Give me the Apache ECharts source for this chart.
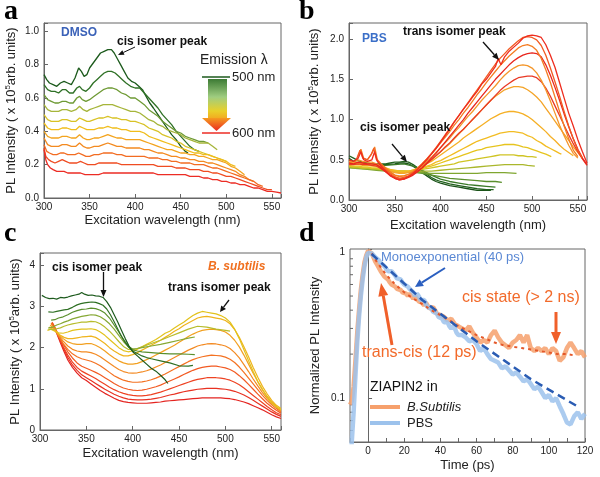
<!DOCTYPE html>
<html><head><meta charset="utf-8">
<script src="https://cdn.jsdelivr.net/npm/echarts@6/dist/echarts.min.js"></script>
<style>html,body{margin:0;padding:0;background:#fff}#c{width:600px;height:477px}</style>
</head><body><div id="c"></div>
<script>
// ---------------- Panel a (DMSO) : emission 500..600 nm ----------------
const aEmission = [500,510,520,530,540,550,560,570,580,590,600];
const aColors = ['#1c5a1c','#2f7126','#6e9a34','#a6b53a','#d8c226','#f0bd1c','#f3a41e','#f38a20','#f26c22','#ef4c22','#ec2c24'];
const a500 = [[300,0.74],[303,0.71],[306,0.69],[310,0.68],[314,0.67],[318,0.69],[322,0.70],[326,0.69],[330,0.68],[334,0.72],[338,0.78],[341,0.76],[344,0.73],[347,0.74],[350,0.78],[354,0.81],[358,0.84],[362,0.87],[366,0.88],[370,0.89],[374,0.89],[377,0.87],[380,0.84],[384,0.80],[388,0.76],[392,0.72],[396,0.70],[400,0.69],[404,0.67],[408,0.65],[412,0.61],[416,0.57],[420,0.54],[425,0.50],[430,0.46],[435,0.42],[440,0.38],[445,0.35],[450,0.31],[455,0.28],[458,0.27]];
const a510 = [[300,0.68],[304,0.65],[308,0.64],[312,0.64],[316,0.63],[320,0.65],[324,0.65],[328,0.63],[332,0.63],[336,0.66],[339,0.67],[342,0.65],[346,0.64],[350,0.66],[354,0.69],[358,0.71],[362,0.73],[366,0.75],[370,0.76],[374,0.76],[378,0.75],[382,0.73],[386,0.71],[390,0.69],[395,0.67],[400,0.66],[405,0.66],[410,0.63],[415,0.60],[420,0.57],[425,0.54],[430,0.50],[435,0.47],[440,0.44],[445,0.40],[450,0.37],[455,0.34],[460,0.31],[465,0.29],[470,0.28]];
const a520 = [[300,0.62],[304,0.59],[308,0.58],[312,0.57],[316,0.57],[320,0.58],[324,0.58],[328,0.57],[332,0.57],[336,0.60],[339,0.61],[342,0.59],[346,0.58],[350,0.59],[355,0.61],[360,0.63],[365,0.65],[370,0.66],[375,0.66],[380,0.65],[385,0.63],[390,0.62],[395,0.60],[400,0.60],[405,0.58],[410,0.56],[415,0.53],[420,0.51],[425,0.49],[430,0.46],[435,0.44],[440,0.42],[445,0.40],[450,0.39],[455,0.37],[460,0.36],[465,0.35],[470,0.34],[475,0.34],[480,0.33]];
const a530 = [[300,0.56],[304,0.53],[308,0.52],[312,0.52],[316,0.52],[320,0.53],[325,0.53],[330,0.52],[335,0.53],[339,0.55],[343,0.53],[347,0.52],[350,0.53],[355,0.54],[360,0.55],[365,0.56],[370,0.56],[375,0.56],[380,0.55],[385,0.54],[390,0.53],[395,0.52],[400,0.52],[405,0.51],[410,0.49],[415,0.47],[420,0.46],[425,0.44],[430,0.43],[435,0.41],[440,0.40],[445,0.39],[450,0.38],[455,0.36],[460,0.35],[465,0.34],[470,0.33],[475,0.33],[480,0.33],[485,0.31],[490,0.29]];
const a540 = [[300,0.50],[304,0.47],[308,0.46],[312,0.46],[316,0.46],[320,0.47],[325,0.47],[330,0.46],[335,0.46],[339,0.48],[343,0.47],[347,0.46],[350,0.46],[355,0.47],[360,0.48],[365,0.48],[370,0.49],[375,0.48],[380,0.48],[385,0.47],[390,0.47],[395,0.46],[400,0.46],[405,0.45],[410,0.44],[415,0.42],[420,0.41],[425,0.40],[430,0.38],[435,0.37],[440,0.36],[445,0.34],[450,0.33],[455,0.31],[460,0.30],[465,0.29],[470,0.28],[475,0.27],[480,0.26],[485,0.25],[490,0.24],[495,0.23],[500,0.22]];
const a550 = [[300,0.45],[304,0.42],[308,0.41],[312,0.41],[316,0.41],[320,0.42],[325,0.42],[330,0.41],[335,0.41],[339,0.43],[343,0.42],[347,0.41],[350,0.41],[355,0.41],[360,0.42],[365,0.42],[370,0.43],[375,0.42],[380,0.42],[385,0.41],[390,0.41],[395,0.40],[400,0.40],[405,0.40],[410,0.39],[415,0.37],[420,0.36],[425,0.35],[430,0.34],[435,0.33],[440,0.32],[445,0.31],[450,0.30],[455,0.29],[460,0.28],[465,0.27],[470,0.27],[475,0.26],[480,0.26],[485,0.25],[490,0.24],[495,0.23],[500,0.22],[505,0.20],[510,0.19]];
const a560 = [[300,0.40],[304,0.37],[308,0.36],[312,0.36],[316,0.36],[320,0.37],[325,0.37],[330,0.36],[335,0.36],[339,0.38],[343,0.36],[347,0.35],[350,0.35],[355,0.36],[360,0.36],[365,0.37],[370,0.38],[375,0.37],[380,0.36],[385,0.36],[390,0.35],[395,0.35],[400,0.35],[405,0.35],[410,0.34],[415,0.33],[420,0.32],[425,0.31],[430,0.30],[435,0.29],[440,0.29],[445,0.28],[450,0.27],[455,0.27],[460,0.26],[465,0.26],[470,0.25],[475,0.25],[480,0.24],[485,0.23],[490,0.23],[495,0.22],[500,0.21],[505,0.19],[510,0.18],[515,0.16],[520,0.14]];
const a570 = [[300,0.36],[304,0.32],[308,0.31],[312,0.31],[316,0.31],[320,0.32],[325,0.32],[330,0.31],[335,0.31],[339,0.33],[343,0.31],[347,0.30],[350,0.30],[355,0.31],[360,0.31],[365,0.32],[370,0.33],[375,0.32],[380,0.31],[385,0.31],[390,0.30],[395,0.30],[400,0.30],[405,0.30],[410,0.29],[415,0.29],[420,0.28],[425,0.27],[430,0.27],[435,0.26],[440,0.25],[445,0.25],[450,0.24],[455,0.24],[460,0.23],[465,0.23],[470,0.22],[475,0.22],[480,0.21],[485,0.21],[490,0.20],[495,0.19],[500,0.18],[505,0.17],[510,0.16],[515,0.14],[520,0.13],[525,0.11],[530,0.10]];
const a580 = [[300,0.32],[303,0.28],[306,0.27],[310,0.26],[314,0.26],[318,0.27],[322,0.27],[326,0.26],[330,0.26],[334,0.26],[338,0.27],[342,0.26],[346,0.25],[350,0.25],[355,0.26],[360,0.26],[365,0.27],[370,0.27],[375,0.27],[380,0.26],[385,0.26],[390,0.25],[395,0.25],[400,0.25],[405,0.25],[410,0.25],[415,0.24],[420,0.24],[425,0.24],[430,0.23],[435,0.23],[440,0.22],[445,0.22],[450,0.21],[455,0.21],[460,0.21],[465,0.20],[470,0.20],[475,0.20],[480,0.19],[485,0.18],[490,0.18],[495,0.17],[500,0.16],[505,0.15],[510,0.14],[515,0.13],[520,0.12],[525,0.11],[530,0.10],[535,0.08],[540,0.07]];
const a590 = [[300,0.30],[302,0.25],[305,0.23],[308,0.22],[312,0.21],[316,0.22],[320,0.23],[324,0.22],[328,0.21],[332,0.21],[336,0.21],[340,0.22],[344,0.21],[348,0.20],[352,0.20],[356,0.20],[360,0.21],[365,0.21],[370,0.21],[375,0.21],[380,0.21],[385,0.20],[390,0.20],[395,0.20],[400,0.20],[405,0.20],[410,0.20],[415,0.20],[420,0.20],[425,0.19],[430,0.19],[435,0.19],[440,0.19],[445,0.18],[450,0.18],[455,0.18],[460,0.17],[465,0.17],[470,0.17],[475,0.16],[480,0.16],[485,0.15],[490,0.15],[495,0.14],[500,0.13],[505,0.13],[510,0.12],[515,0.11],[520,0.10],[525,0.09],[530,0.08],[535,0.07],[540,0.06],[545,0.05],[550,0.05]];
const a600 = [[300,0.29],[302,0.23],[304,0.20],[307,0.18],[310,0.17],[314,0.16],[318,0.16],[322,0.16],[326,0.15],[330,0.15],[335,0.15],[340,0.15],[345,0.14],[350,0.14],[355,0.14],[360,0.14],[365,0.15],[370,0.15],[375,0.15],[380,0.15],[385,0.15],[390,0.15],[395,0.15],[400,0.15],[405,0.15],[410,0.15],[415,0.15],[420,0.15],[425,0.14],[430,0.14],[435,0.14],[440,0.14],[445,0.14],[450,0.14],[455,0.14],[460,0.13],[465,0.13],[470,0.13],[475,0.12],[480,0.12],[485,0.11],[490,0.11],[495,0.10],[500,0.10],[505,0.09],[510,0.09],[515,0.08],[520,0.08],[525,0.07],[530,0.06],[535,0.06],[540,0.05],[545,0.04],[550,0.04],[555,0.035],[560,0.03]];
const aCurves = [a500,a510,a520,a530,a540,a550,a560,a570,a580,a590,a600];

// ---------------- Panel b (PBS) ----------------
const b01 = [[300,0.50],[305,0.48],[310,0.52],[313,0.60],[316,0.50],[320,0.48],[325,0.50],[328,0.60],[331,0.48],[335,0.42],[340,0.36],[345,0.31],[350,0.27],[355,0.25],[360,0.26],[365,0.29],[370,0.33],[375,0.38],[380,0.44],[385,0.50],[390,0.57],[395,0.64],[400,0.72],[405,0.80],[410,0.88],[415,0.97],[420,1.05],[425,1.13],[430,1.20],[435,1.28],[440,1.35],[445,1.44],[450,1.50],[455,1.58],[460,1.66],[463,1.76],[466,1.68],[470,1.78],[475,1.85],[480,1.90],[485,1.95],[490,2.01],[495,2.04],[500,2.05],[505,2.04],[510,2.02],[515,1.93],[520,1.80],[525,1.65],[530,1.46],[535,1.27],[540,1.08],[545,0.92],[550,0.75],[555,0.60],[560,0.46]];
const b02 = [[308,0.50],[312,0.62],[315,0.52],[320,0.50],[324,0.56],[327,0.64],[330,0.50],[335,0.44],[340,0.38],[345,0.33],[350,0.29],[355,0.27],[360,0.28],[365,0.30],[370,0.34],[375,0.39],[380,0.45],[385,0.51],[390,0.58],[395,0.65],[400,0.73],[405,0.81],[410,0.89],[415,0.97],[420,1.05],[425,1.13],[430,1.21],[435,1.29],[440,1.37],[445,1.45],[450,1.53],[455,1.61],[460,1.69],[465,1.76],[470,1.82],[475,1.88],[480,1.93],[485,1.98],[490,2.02],[495,2.03],[500,2.02],[505,1.99],[510,1.92],[515,1.80],[520,1.64],[525,1.47],[530,1.29],[535,1.10],[540,0.92],[545,0.76],[550,0.62],[555,0.52]];
const b03 = [[310,0.55],[313,0.63],[316,0.52],[320,0.50],[325,0.58],[328,0.66],[331,0.50],[335,0.45],[340,0.40],[345,0.35],[350,0.31],[355,0.29],[360,0.30],[365,0.32],[370,0.35],[375,0.40],[380,0.45],[385,0.51],[390,0.57],[395,0.64],[400,0.71],[405,0.78],[410,0.85],[415,0.93],[420,1.00],[425,1.08],[430,1.15],[435,1.23],[440,1.31],[445,1.38],[450,1.46],[455,1.53],[460,1.60],[465,1.67],[470,1.73],[475,1.79],[480,1.84],[485,1.89],[490,1.92],[495,1.93],[500,1.91],[505,1.86],[510,1.76],[515,1.62],[520,1.46],[525,1.28],[530,1.10],[535,0.92],[540,0.76],[545,0.62],[550,0.54]];
const b04 = [[300,0.46],[305,0.45],[310,0.47],[315,0.46],[320,0.45],[325,0.45],[330,0.44],[335,0.40],[340,0.35],[345,0.30],[350,0.27],[355,0.25],[360,0.26],[365,0.28],[370,0.31],[375,0.35],[380,0.40],[385,0.46],[390,0.52],[395,0.58],[400,0.65],[405,0.72],[410,0.79],[415,0.86],[420,0.93],[425,1.00],[430,1.08],[435,1.15],[440,1.22],[445,1.29],[450,1.36],[455,1.43],[460,1.50],[465,1.56],[470,1.62],[475,1.68],[480,1.73],[485,1.77],[490,1.80],[495,1.82],[500,1.83],[505,1.82],[510,1.78],[515,1.68],[520,1.55],[525,1.40],[530,1.24],[535,1.07],[540,0.91],[545,0.76],[550,0.63],[555,0.52],[560,0.44]];
const b05 = [[300,0.48],[305,0.47],[310,0.50],[315,0.48],[320,0.47],[325,0.47],[330,0.45],[335,0.42],[340,0.38],[345,0.34],[350,0.31],[355,0.30],[360,0.30],[365,0.32],[370,0.35],[375,0.39],[380,0.43],[385,0.48],[390,0.53],[395,0.59],[400,0.65],[405,0.71],[410,0.77],[415,0.84],[420,0.90],[425,0.97],[430,1.04],[435,1.10],[440,1.17],[445,1.24],[450,1.30],[455,1.36],[460,1.42],[465,1.49],[470,1.55],[475,1.60],[480,1.64],[485,1.67],[490,1.68],[495,1.67],[500,1.64],[505,1.58],[510,1.49],[515,1.37],[520,1.23],[525,1.08],[530,0.93],[535,0.80],[540,0.68],[545,0.58],[550,0.52]];
const b06 = [[300,0.44],[305,0.44],[310,0.45],[315,0.44],[320,0.44],[325,0.43],[330,0.42],[335,0.39],[340,0.35],[345,0.31],[350,0.28],[355,0.27],[360,0.27],[365,0.29],[370,0.32],[375,0.36],[380,0.40],[385,0.45],[390,0.50],[395,0.55],[400,0.60],[405,0.66],[410,0.71],[415,0.77],[420,0.83],[425,0.88],[430,0.94],[435,1.00],[440,1.06],[445,1.12],[450,1.18],[455,1.24],[460,1.30],[465,1.36],[470,1.41],[475,1.45],[480,1.49],[485,1.52],[490,1.53],[495,1.54],[500,1.54],[505,1.52],[510,1.47],[515,1.39],[520,1.29],[525,1.17],[530,1.05],[535,0.93],[540,0.81],[545,0.70],[550,0.60],[555,0.51],[560,0.43]];
const b07 = [[300,0.47],[305,0.46],[310,0.47],[315,0.46],[320,0.45],[325,0.45],[330,0.44],[335,0.42],[340,0.39],[345,0.36],[350,0.34],[355,0.33],[360,0.33],[365,0.34],[370,0.36],[375,0.39],[380,0.42],[385,0.46],[390,0.50],[395,0.55],[400,0.60],[405,0.65],[410,0.70],[415,0.76],[420,0.82],[425,0.88],[430,0.94],[435,1.00],[440,1.06],[445,1.12],[450,1.18],[455,1.24],[460,1.29],[465,1.33],[470,1.37],[475,1.39],[480,1.41],[485,1.41],[490,1.40],[495,1.37],[500,1.33],[505,1.28],[510,1.22],[515,1.14],[520,1.06],[525,0.98],[530,0.90],[535,0.82],[540,0.74],[545,0.66],[550,0.59],[555,0.52]];
const b08 = [[300,0.46],[305,0.45],[310,0.46],[315,0.45],[320,0.44],[325,0.44],[330,0.43],[335,0.41],[340,0.39],[345,0.37],[350,0.35],[355,0.34],[360,0.34],[365,0.35],[370,0.37],[375,0.39],[380,0.42],[385,0.45],[390,0.48],[395,0.52],[400,0.56],[405,0.60],[410,0.64],[415,0.68],[420,0.72],[425,0.77],[430,0.81],[435,0.85],[440,0.89],[445,0.93],[450,0.97],[455,1.01],[460,1.04],[465,1.07],[470,1.09],[475,1.10],[480,1.10],[485,1.09],[490,1.07],[495,1.04],[500,1.00],[505,0.95],[510,0.90],[515,0.85],[520,0.79],[525,0.74],[530,0.68],[535,0.63],[540,0.59],[545,0.55]];
const b09 = [[300,0.45],[305,0.44],[310,0.44],[315,0.43],[320,0.43],[325,0.42],[330,0.42],[335,0.41],[340,0.40],[345,0.38],[350,0.37],[355,0.36],[360,0.36],[365,0.36],[370,0.37],[375,0.39],[380,0.40],[385,0.42],[390,0.44],[395,0.47],[400,0.49],[405,0.52],[410,0.55],[415,0.58],[420,0.61],[425,0.64],[430,0.67],[435,0.70],[440,0.73],[445,0.75],[450,0.77],[455,0.79],[460,0.81],[465,0.83],[470,0.84],[475,0.85],[480,0.85],[485,0.84],[490,0.83],[495,0.80],[500,0.78],[505,0.74],[510,0.71],[515,0.67],[520,0.64],[525,0.61],[530,0.58],[532,0.57]];
const b10 = [[300,0.43],[305,0.42],[310,0.42],[315,0.41],[320,0.41],[325,0.40],[330,0.40],[335,0.39],[340,0.38],[345,0.37],[350,0.36],[355,0.36],[360,0.36],[365,0.36],[370,0.37],[375,0.38],[380,0.39],[385,0.41],[390,0.42],[395,0.44],[400,0.46],[405,0.48],[410,0.50],[415,0.52],[420,0.54],[425,0.56],[430,0.58],[435,0.60],[440,0.62],[445,0.63],[450,0.65],[455,0.66],[460,0.67],[465,0.68],[470,0.69],[475,0.69],[480,0.69],[485,0.68],[490,0.66],[495,0.65],[500,0.63],[505,0.61],[510,0.59],[515,0.57],[521,0.54]];
const b11 = [[300,0.42],[305,0.41],[310,0.41],[315,0.40],[320,0.40],[325,0.39],[330,0.39],[335,0.38],[340,0.38],[345,0.37],[350,0.36],[355,0.36],[360,0.36],[365,0.36],[370,0.36],[375,0.37],[380,0.38],[385,0.39],[390,0.40],[395,0.41],[400,0.42],[405,0.43],[410,0.44],[415,0.45],[420,0.47],[425,0.48],[430,0.49],[435,0.50],[440,0.51],[445,0.52],[450,0.53],[455,0.54],[460,0.55],[465,0.56],[470,0.56],[475,0.56],[480,0.56],[485,0.55],[490,0.55],[495,0.54],[500,0.54],[505,0.53]];
const b12 = [[300,0.41],[305,0.40],[310,0.40],[315,0.39],[320,0.39],[330,0.38],[340,0.37],[350,0.36],[360,0.35],[370,0.35],[380,0.36],[390,0.36],[400,0.37],[410,0.38],[420,0.39],[430,0.40],[440,0.41],[450,0.42],[460,0.43],[470,0.44],[480,0.44],[490,0.44],[495,0.43],[503,0.42]];
const b13 = [[300,0.40],[310,0.39],[320,0.38],[330,0.37],[340,0.36],[350,0.35],[360,0.35],[370,0.34],[380,0.34],[390,0.33],[400,0.33],[410,0.33],[420,0.33],[430,0.33],[440,0.33],[450,0.34],[460,0.34],[470,0.34],[483,0.33]];
const b14 = [[300,0.42],[310,0.40],[320,0.39],[330,0.38],[340,0.37],[350,0.36],[360,0.36],[370,0.35],[380,0.33],[390,0.31],[400,0.29],[410,0.27],[420,0.26],[430,0.25],[440,0.24],[450,0.23],[460,0.23],[467,0.22]];
const b15 = [[300,0.50],[310,0.46],[320,0.44],[330,0.43],[340,0.43],[350,0.44],[360,0.45],[370,0.42],[380,0.37],[390,0.31],[400,0.26],[410,0.23],[420,0.21],[430,0.19],[440,0.18],[450,0.17],[460,0.16]];
const b16 = [[300,0.55],[305,0.52],[310,0.49],[315,0.47],[320,0.46],[325,0.45],[330,0.45],[335,0.45],[340,0.45],[345,0.46],[350,0.47],[355,0.47],[360,0.48],[365,0.47],[370,0.44],[375,0.40],[380,0.36],[385,0.32],[390,0.28],[395,0.25],[400,0.23],[410,0.20],[420,0.18],[430,0.16],[440,0.14],[450,0.13],[458,0.13]];
const b17 = [[300,0.52],[305,0.48],[310,0.46],[320,0.44],[330,0.44],[340,0.44],[350,0.45],[355,0.46],[360,0.46],[365,0.45],[370,0.42],[375,0.38],[380,0.34],[385,0.30],[390,0.26],[395,0.23],[400,0.21],[410,0.18],[420,0.16],[430,0.14],[440,0.12],[450,0.12],[455,0.12]];
const bCurves = [b17,b16,b15,b14,b13,b12,b11,b10,b09,b08,b07,b06,b05,b04,b03,b02,b01];
const bColors = ['#1a5218','#22621e','#3a7a28','#5a8f2c','#7fa630','#aab72c','#cfc424','#e6c41e','#f2bc22','#f5b026','#f4a428','#e93a26','#f4962a','#e8261e','#f47c22','#f25a22','#ee2c1e'];

// ---------------- Panel c (B. subtilis) ----------------
const c01 = [[302,3.27],[306,3.22],[310,3.19],[314,3.20],[318,3.18],[322,3.22],[326,3.21],[330,3.23],[334,3.26],[338,3.28],[342,3.30],[345,3.34],[348,3.30],[352,3.27],[356,3.28],[360,3.26],[364,3.25],[368,3.22],[372,3.12],[376,2.98],[380,2.80],[384,2.62],[388,2.42],[392,2.22],[396,2.04],[400,1.90],[405,1.80],[410,1.70],[415,1.60],[420,1.50],[425,1.43],[430,1.33],[435,1.22],[438,1.13]];
const c02 = [[309,2.87],[314,2.86],[318,2.88],[322,2.90],[326,2.92],[330,2.93],[335,2.98],[340,3.04],[344,3.07],[348,3.09],[352,3.10],[356,3.11],[360,3.10],[364,3.07],[368,3.03],[372,2.94],[376,2.80],[380,2.63],[384,2.45],[388,2.27],[392,2.12],[396,2.00],[400,1.92],[405,1.86],[410,1.80],[415,1.76],[420,1.73],[430,1.68],[440,1.63],[450,1.56],[460,1.55],[465,1.57]];
const c03 = [[312,2.67],[316,2.68],[320,2.72],[325,2.75],[330,2.80],[335,2.86],[340,2.90],[345,2.93],[350,2.94],[355,2.96],[360,2.95],[365,2.91],[370,2.84],[375,2.72],[380,2.55],[385,2.38],[390,2.20],[395,2.05],[400,1.95],[405,1.92],[410,1.90],[420,1.88],[430,1.86],[440,1.85],[450,1.85],[460,1.84],[467,1.83]];
const c04 = [[309,2.48],[314,2.50],[318,2.55],[322,2.58],[326,2.62],[330,2.65],[335,2.70],[340,2.73],[345,2.76],[350,2.78],[355,2.80],[360,2.79],[365,2.75],[370,2.68],[375,2.58],[380,2.45],[385,2.30],[390,2.15],[395,2.03],[400,1.97],[405,1.98],[410,2.00],[420,2.04],[430,2.08],[440,2.13],[450,2.18],[460,2.23],[467,2.26]];
const c05 = [[309,2.45],[314,2.44],[318,2.46],[322,2.48],[326,2.52],[330,2.55],[335,2.58],[340,2.60],[345,2.62],[350,2.62],[355,2.64],[360,2.63],[365,2.58],[370,2.50],[375,2.40],[380,2.28],[385,2.15],[390,2.03],[395,1.96],[400,1.95],[405,1.98],[410,2.02],[420,2.10],[430,2.18],[440,2.27],[450,2.36],[460,2.45],[470,2.52],[480,2.50],[490,2.45],[500,2.42],[505,2.40]];
const c06 = [[308,2.42],[312,2.45],[316,2.40],[320,2.36],[325,2.35],[330,2.38],[335,2.42],[340,2.44],[345,2.45],[350,2.45],[355,2.46],[360,2.44],[365,2.38],[370,2.30],[375,2.20],[380,2.10],[385,2.00],[390,1.93],[395,1.90],[400,1.92],[405,1.96],[410,2.02],[415,2.08],[420,2.14],[425,2.20],[430,2.27],[435,2.35],[440,2.40],[445,2.48],[450,2.55],[455,2.62],[460,2.70],[465,2.78],[470,2.84],[475,2.88],[480,2.86],[485,2.84],[490,2.82],[495,2.78],[500,2.72],[505,2.62],[510,2.45],[515,2.22],[520,1.95],[525,1.68],[530,1.42],[535,1.18],[540,0.98],[545,0.80],[550,0.66],[555,0.56],[560,0.50]];
const c07 = [[310,2.50],[314,2.45],[318,2.38],[322,2.30],[326,2.25],[330,2.22],[335,2.22],[340,2.24],[345,2.26],[350,2.27],[355,2.28],[360,2.25],[365,2.18],[370,2.10],[375,2.00],[380,1.92],[385,1.85],[390,1.80],[395,1.80],[400,1.83],[405,1.88],[410,1.94],[415,2.00],[420,2.06],[425,2.12],[430,2.18],[435,2.25],[440,2.32],[445,2.40],[450,2.46],[455,2.54],[460,2.60],[465,2.66],[470,2.72],[475,2.75],[480,2.76],[485,2.74],[490,2.72],[495,2.70],[500,2.66],[505,2.58],[510,2.44],[515,2.25],[520,2.02],[525,1.78],[530,1.52],[535,1.28],[540,1.06],[545,0.88],[550,0.72],[555,0.60],[560,0.52]];
const c08 = [[311,2.55],[315,2.45],[320,2.32],[325,2.22],[330,2.14],[335,2.10],[340,2.08],[345,2.08],[350,2.10],[355,2.10],[360,2.06],[365,2.00],[370,1.92],[375,1.83],[380,1.75],[385,1.68],[390,1.63],[395,1.60],[400,1.60],[405,1.62],[410,1.66],[415,1.71],[420,1.76],[425,1.82],[430,1.88],[435,1.94],[440,2.00],[445,2.06],[450,2.13],[455,2.20],[460,2.27],[465,2.33],[470,2.38],[475,2.42],[480,2.44],[485,2.45],[490,2.44],[495,2.42],[500,2.38],[505,2.30],[510,2.18],[515,2.02],[520,1.82],[525,1.60],[530,1.38],[535,1.17],[540,0.98],[545,0.82],[550,0.68],[555,0.57],[560,0.48]];
const c09 = [[312,2.58],[316,2.45],[320,2.30],[325,2.16],[330,2.04],[335,1.96],[340,1.92],[345,1.90],[350,1.90],[355,1.88],[360,1.84],[365,1.78],[370,1.70],[375,1.62],[380,1.54],[385,1.47],[390,1.42],[395,1.39],[400,1.38],[405,1.39],[410,1.41],[415,1.44],[420,1.48],[425,1.53],[430,1.58],[435,1.64],[440,1.70],[445,1.76],[450,1.82],[455,1.88],[460,1.94],[465,1.99],[470,2.04],[475,2.07],[480,2.09],[485,2.10],[490,2.09],[495,2.07],[500,2.04],[505,1.98],[510,1.88],[515,1.75],[520,1.59],[525,1.42],[530,1.24],[535,1.07],[540,0.91],[545,0.77],[550,0.65],[555,0.55],[560,0.46]];
const c10 = [[312,2.60],[316,2.44],[320,2.28],[325,2.10],[330,1.96],[335,1.85],[340,1.78],[345,1.73],[350,1.70],[355,1.67],[360,1.62],[365,1.56],[370,1.48],[375,1.40],[380,1.32],[385,1.26],[390,1.21],[395,1.18],[400,1.16],[405,1.16],[410,1.17],[415,1.19],[420,1.22],[425,1.26],[430,1.31],[435,1.36],[440,1.42],[445,1.48],[450,1.54],[455,1.60],[460,1.66],[465,1.71],[470,1.75],[475,1.78],[480,1.80],[485,1.82],[490,1.81],[495,1.80],[500,1.77],[505,1.72],[510,1.64],[515,1.53],[520,1.40],[525,1.26],[530,1.12],[535,0.98],[540,0.84],[545,0.72],[550,0.61],[555,0.52],[560,0.44]];
const c11 = [[313,2.62],[317,2.45],[321,2.26],[325,2.08],[330,1.90],[335,1.75],[340,1.63],[345,1.55],[350,1.50],[355,1.45],[360,1.40],[365,1.34],[370,1.27],[375,1.20],[380,1.13],[385,1.07],[390,1.02],[395,0.99],[400,0.97],[405,0.96],[410,0.97],[415,0.99],[420,1.02],[425,1.05],[430,1.09],[435,1.14],[440,1.19],[445,1.24],[450,1.29],[455,1.35],[460,1.40],[465,1.45],[470,1.49],[475,1.52],[480,1.54],[485,1.55],[490,1.55],[495,1.53],[500,1.51],[505,1.47],[510,1.41],[515,1.32],[520,1.22],[525,1.11],[530,0.99],[535,0.87],[540,0.76],[545,0.65],[550,0.56],[555,0.48],[560,0.41]];
const c12 = [[313,2.60],[317,2.42],[321,2.22],[325,2.02],[330,1.82],[335,1.65],[340,1.52],[345,1.43],[350,1.37],[355,1.31],[360,1.25],[365,1.18],[370,1.11],[375,1.04],[380,0.98],[385,0.93],[390,0.89],[395,0.86],[400,0.84],[405,0.83],[410,0.83],[415,0.84],[420,0.86],[425,0.89],[430,0.92],[435,0.96],[440,1.00],[445,1.04],[450,1.08],[455,1.12],[460,1.16],[465,1.20],[470,1.23],[475,1.25],[480,1.27],[485,1.27],[490,1.27],[495,1.26],[500,1.24],[505,1.21],[510,1.16],[515,1.10],[520,1.02],[525,0.93],[530,0.84],[535,0.75],[540,0.66],[545,0.57],[550,0.49],[555,0.42],[560,0.37]];
const c13 = [[314,2.58],[318,2.38],[322,2.16],[326,1.95],[330,1.76],[335,1.58],[340,1.45],[345,1.34],[350,1.27],[355,1.20],[360,1.13],[365,1.06],[370,0.99],[375,0.93],[380,0.87],[385,0.82],[390,0.78],[395,0.75],[400,0.74],[405,0.73],[410,0.73],[415,0.74],[420,0.75],[425,0.77],[430,0.79],[435,0.82],[440,0.85],[445,0.87],[450,0.90],[455,0.93],[460,0.95],[465,0.97],[470,0.99],[475,1.00],[480,1.01],[485,1.01],[490,1.01],[495,1.00],[500,0.99],[505,0.97],[510,0.94],[515,0.90],[520,0.85],[525,0.79],[530,0.72],[535,0.65],[540,0.58],[545,0.51],[550,0.44],[555,0.38],[560,0.33]];
const c14 = [[314,2.56],[318,2.35],[322,2.12],[326,1.90],[330,1.70],[335,1.52],[340,1.38],[345,1.27],[350,1.20],[355,1.12],[360,1.04],[365,0.96],[370,0.89],[375,0.83],[380,0.77],[385,0.72],[390,0.69],[395,0.67],[400,0.66],[405,0.65],[410,0.65],[415,0.65],[420,0.66],[425,0.67],[430,0.68],[435,0.70],[440,0.71],[445,0.72],[450,0.73],[455,0.74],[460,0.75],[465,0.76],[470,0.77],[475,0.78],[480,0.78],[485,0.78],[490,0.78],[495,0.78],[500,0.77],[505,0.76],[510,0.74],[515,0.71],[520,0.68],[525,0.64],[530,0.59],[535,0.54],[540,0.49],[545,0.43],[550,0.37],[555,0.32],[560,0.28]];
const cCurves = [c14,c13,c12,c11,c10,c09,c08,c07,c06,c05,c04,c03,c02,c01];
const cColors = ['#e42420','#e83222','#ee4222','#f25a22','#f47222','#f38a22','#f2a020','#efb41c','#e2c21c','#b7bc2c','#86a834','#5a8f2c','#2f7024','#1e5b1e'];

// ---------------- Panel d (time-resolved PL) ----------------
const dPBS = [[-9.5,0.04],[-8,0.08],[-7,0.14],[-6,0.24],[-5,0.36],[-4,0.5],[-3,0.65],[-2,0.8],[-1,0.92],[0,0.99],[1,1.0],[2,0.98],[3,0.95],[4,0.92],[5,0.9],[6,0.88],[7,0.84],[8,0.82],[9,0.80],[10,0.78],[11,0.74],[12,0.73],[13,0.74],[14,0.72],[15,0.69],[16,0.66],[17,0.67],[18,0.65],[19,0.62],[20,0.60],[21,0.60],[22,0.58],[23,0.56],[24,0.55],[25,0.53],[26,0.50],[27,0.52],[28,0.50],[29,0.47],[30,0.46],[31,0.47],[32,0.44],[33,0.42],[34,0.43],[35,0.41],[36,0.39],[37,0.40],[38,0.38],[39,0.36],[40,0.37],[41,0.35],[42,0.33],[43,0.34],[44,0.33],[45,0.31],[46,0.30],[47,0.31],[48,0.30],[49,0.28],[50,0.27],[52,0.27],[54,0.26],[56,0.245],[58,0.25],[60,0.235],[62,0.21],[64,0.22],[66,0.20],[68,0.185],[70,0.18],[72,0.175],[74,0.16],[76,0.165],[78,0.155],[80,0.145],[82,0.15],[84,0.14],[86,0.13],[88,0.135],[90,0.125],[92,0.115],[94,0.12],[96,0.11],[98,0.10],[100,0.105],[102,0.095],[104,0.10],[106,0.088],[108,0.078],[110,0.068],[112,0.066],[114,0.075],[116,0.08],[118,0.072],[120,0.078]];
const dBsub = [[-10,0.09],[-9,0.095],[-8,0.12],[-7,0.18],[-6,0.28],[-5,0.40],[-4,0.55],[-3,0.70],[-2,0.85],[-1,0.95],[0,1.02],[1,1.03],[2,0.98],[3,0.92],[4,0.86],[5,0.82],[6,0.78],[7,0.74],[8,0.72],[9,0.68],[10,0.66],[11,0.65],[12,0.62],[13,0.60],[14,0.61],[15,0.58],[16,0.56],[17,0.57],[18,0.55],[19,0.53],[20,0.54],[21,0.52],[22,0.50],[23,0.52],[24,0.50],[25,0.48],[26,0.50],[27,0.48],[28,0.46],[29,0.47],[30,0.45],[31,0.43],[32,0.45],[33,0.44],[34,0.41],[35,0.40],[36,0.42],[37,0.40],[38,0.38],[39,0.39],[40,0.37],[42,0.36],[44,0.34],[46,0.35],[48,0.32],[50,0.31],[52,0.30],[54,0.29],[56,0.31],[58,0.28],[60,0.26],[62,0.24],[64,0.25],[66,0.24],[68,0.27],[70,0.29],[72,0.26],[74,0.24],[76,0.23],[78,0.22],[80,0.24],[82,0.25],[84,0.27],[86,0.24],[88,0.27],[90,0.22],[92,0.21],[94,0.22],[96,0.21],[98,0.22],[100,0.20],[102,0.22],[104,0.21],[106,0.18],[108,0.19],[110,0.22],[112,0.24],[114,0.22],[116,0.20],[118,0.21],[120,0.19]];
const dFitBsub = [[2,0.98],[5,0.85],[10,0.70],[15,0.60],[20,0.53],[25,0.48],[30,0.44],[35,0.40],[40,0.37],[45,0.34],[50,0.31],[55,0.29],[60,0.27],[65,0.255],[70,0.24],[75,0.23],[80,0.225],[85,0.22],[90,0.215],[95,0.21],[100,0.205],[105,0.20],[110,0.20],[115,0.195]];
const dFitPBS = [[2,0.97],[30,0.47],[60,0.245],[90,0.135],[117,0.086]];
const dMinor = [0.06,0.07,0.08,0.09,0.2,0.3,0.4,0.5,0.6,0.7,0.8,0.9];

// ---------------- option building ----------------
const FF = '"Liberation Sans", Arial, sans-serif';
const AX = '#666';
function near(v, step){ return Math.abs(v/step - Math.round(v/step)) < 1e-6; }
function xAxis(gi, min, max, interval, fmt, gap, name){
  return {gridIndex: gi, type:'value', min, max, interval, name, nameLocation:'middle', nameGap: gap,
    nameTextStyle:{fontFamily:FF, fontSize:13, color:'#222'},
    axisLine:{show:true, lineStyle:{color:AX}}, axisTick:{show:true, inside:true, length:4, lineStyle:{color:AX}},
    splitLine:{show:false}, axisLabel:{fontFamily:FF, fontSize:10, color:'#222', margin:4, formatter: fmt}};
}
function yAxis(gi, min, max, interval, fmt, gap, name, type){
  const o = {gridIndex: gi, type: type||'value', min, max, name, nameLocation:'middle', nameGap: gap,
    nameTextStyle:{fontFamily:FF, fontSize:13, color:'#222', rich:{s:{fontFamily:FF, fontSize:8, color:'#222', verticalAlign:'top', padding:[0,0,6,0]}}},
    axisLine:{show:true, lineStyle:{color:AX}}, axisTick:{show:true, inside:true, length:4, lineStyle:{color:AX}},
    splitLine:{show:false}, axisLabel:{fontFamily:FF, fontSize:10, color:'#222', margin:5, formatter: fmt}};
  if (interval != null) o.interval = interval;
  if (type === 'log') o.logBase = 10;
  return o;
}
const yName = 'PL Intensity ( x 10{s|5}arb. units)';
const series = [];
function addCurves(curves, colors, xi, width){
  curves.forEach((d, i) => series.push({type:'line', xAxisIndex:xi, yAxisIndex:xi, data:d, showSymbol:false, silent:true,
    lineStyle:{color:colors[i], width: width}, itemStyle:{color:colors[i]}, z:2}));
}
addCurves(aCurves, aColors, 0, 1.3);
addCurves(bCurves, bColors, 1, 1.3);
addCurves(cCurves, cColors, 2, 1.2);
series.push({type:'line', xAxisIndex:3, yAxisIndex:3, data:dBsub, showSymbol:false, silent:true, lineStyle:{color:'#f6a06c', width:4.5, opacity:0.85}});
series.push({type:'line', xAxisIndex:3, yAxisIndex:3, data:dPBS, showSymbol:false, silent:true, lineStyle:{color:'#9cc2ec', width:4.5, opacity:0.85}});
series.push({type:'line', xAxisIndex:3, yAxisIndex:3, data:dFitBsub, showSymbol:false, silent:true, lineStyle:{color:'#e4582a', width:2, type:[3,4]}});
series.push({type:'line', xAxisIndex:3, yAxisIndex:3, data:dFitPBS, showSymbol:false, silent:true, lineStyle:{color:'#2a5cb3', width:2.5, type:[8,5]}});
series.push({type:'custom', xAxisIndex:3, yAxisIndex:3, silent:true, data: dMinor.map(v => [-10, v]),
  renderItem: (params, api) => { const p = api.coord([api.value(0), api.value(1)]);
    return {type:'line', shape:{x1:p[0], y1:p[1], x2:p[0]+3, y2:p[1]}, style:{stroke:AX, lineWidth:1}}; }});

function arrow(x1,y1,x2,y2,color,w,hl,hw){
  const ang = Math.atan2(y2-y1, x2-x1);
  const bx = x2 - hl*Math.cos(ang), by = y2 - hl*Math.sin(ang);
  const px = -Math.sin(ang)*hw, py = Math.cos(ang)*hw;
  return [{type:'line', silent:true, z:10, shape:{x1, y1, x2:bx, y2:by}, style:{stroke:color, lineWidth:w}},
          {type:'polygon', silent:true, z:10, shape:{points:[[x2,y2],[bx+px,by+py],[bx-px,by-py]]}, style:{fill:color}}];
}
function txt(x, y, text, font, fill, align){
  return {type:'text', x, y, silent:true, z:10, style:{text, font, fill: fill||'#111', align: align||'left', verticalAlign:'middle'}};
}
function hline(x1, x2, y, color, w){ return {type:'line', silent:true, z:10, shape:{x1, y1:y, x2, y2:y}, style:{stroke:color, lineWidth:w}}; }
const LET = 'bold 28px "Liberation Serif", serif';
const B12 = 'bold 12px ' + FF;
const graphic = [
  {type:'text', x:4, y:26, style:{text:'a', font:LET, fill:'#000', verticalAlign:'bottom'}},
  {type:'text', x:299, y:26, style:{text:'b', font:LET, fill:'#000', verticalAlign:'bottom'}},
  {type:'text', x:4, y:248, style:{text:'c', font:LET, fill:'#000', verticalAlign:'bottom'}},
  {type:'text', x:299, y:248, style:{text:'d', font:LET, fill:'#000', verticalAlign:'bottom'}},
  // panel a
  txt(61, 33, 'DMSO', B12, '#3b62b8'),
  txt(117, 42, 'cis isomer peak', B12),
  ...arrow(135, 47, 118, 55, '#111', 1, 6, 2.5),
  txt(200, 60, 'Emission λ', '14px ' + FF, '#222'),
  hline(202, 230, 77, '#1c5a1c', 1.5),
  txt(232, 77, '500 nm', '13px ' + FF, '#222'),
  {type:'rect', silent:true, z:10, shape:{x:208, y:79, width:19, height:40},
    style:{fill:{type:'linear', x:0, y:0, x2:0, y2:1, colorStops:[{offset:0, color:'#3c7a34'},{offset:0.45, color:'#9fcd80'},{offset:0.8, color:'#e9d02a'},{offset:1, color:'#f3a820'}]}}},
  {type:'polygon', silent:true, z:10, shape:{points:[[202,118],[231,118],[216.5,131]]},
    style:{fill:{type:'linear', x:0, y:0, x2:0, y2:1, colorStops:[{offset:0, color:'#f59a20'},{offset:1, color:'#ea2a22'}]}}},
  hline(202, 230, 133, '#ec2c24', 1.5),
  txt(232, 133, '600 nm', '13px ' + FF, '#222'),
  // panel b
  txt(362, 39, 'PBS', B12, '#3b6fc8'),
  txt(403, 32, 'trans isomer peak', B12),
  ...arrow(483, 42, 499, 60, '#111', 1.3, 7, 3),
  txt(360, 128, 'cis isomer peak', B12),
  ...arrow(392, 144, 407, 162, '#111', 1.3, 7, 3),
  // panel c
  txt(52, 268, 'cis isomer peak', B12),
  ...arrow(103.5, 272, 103.5, 297, '#111', 1.3, 7, 3),
  txt(208, 267, 'B. subtilis', 'italic bold 12px ' + FF, '#f07020'),
  txt(168, 288, 'trans isomer peak', B12),
  ...arrow(229, 300, 220, 312, '#111', 1.3, 6, 3),
  // panel d
  txt(381, 257, 'Monoexponential (40 ps)', '13px ' + FF, '#5a88d4'),
  ...arrow(445, 268, 415, 287, '#2b5fc0', 2, 8, 4),
  txt(462, 298, 'cis state (> 2 ns)', '16px ' + FF, '#f26a2a'),
  ...arrow(556, 312, 556, 344, '#f0602a', 3, 12, 5),
  txt(362, 353, 'trans-cis (12 ps)', '16px ' + FF, '#f26a2a'),
  ...arrow(392, 345, 381, 283, '#f0602a', 3, 13, 5),
  txt(370, 387, 'ZIAPIN2 in', '14px ' + FF, '#111'),
  hline(370, 400, 407, '#f6a06c', 4),
  txt(407, 407, 'B.Subtilis', 'italic 13px ' + FF, '#222'),
  hline(370, 400, 423, '#9cc2ec', 4),
  txt(407, 423, 'PBS', '13px ' + FF, '#222')
];

const xFmt = v => (near(v, 50) ? String(v) : '');
const option = {
  animation: false,
  backgroundColor: '#fff',
  grid: [
    {left:44, top:23, width:237, height:175, show:true, borderColor:AX, borderWidth:1},
    {left:349, top:23, width:238, height:177, show:true, borderColor:AX, borderWidth:1},
    {left:40, top:253, width:241, height:177, show:true, borderColor:AX, borderWidth:1},
    {left:350, top:249, width:235, height:193, show:true, borderColor:AX, borderWidth:1}
  ],
  xAxis: [
    xAxis(0, 300, 560, 50, xFmt, 16, 'Excitation wavelength (nm)'),
    xAxis(1, 300, 560, 50, xFmt, 19, 'Excitation wavelength (nm)'),
    xAxis(2, 300, 560, 50, xFmt, 17, 'Excitation wavelength (nm)'),
    xAxis(3, -10, 120, 10, v => (v >= 0 && near(v, 20) ? String(v) : ''), 17, 'Time (ps)')
  ],
  yAxis: [
    yAxis(0, 0, 1.05, 0.2, v => (near(v, 0.2) ? v.toFixed(1) : ''), 26, yName),
    yAxis(1, 0, 2.2, 0.5, v => (near(v, 0.5) ? v.toFixed(1) : ''), 28, yName),
    yAxis(2, 0, 4.3, 1, v => (near(v, 1) ? String(Math.round(v)) : ''), 18, yName),
    yAxis(3, 0.05, 1.05, null, v => { const l = Math.log10(v); return Math.abs(l - Math.round(l)) < 1e-6 ? (v >= 1 ? '1' : '0.1') : ''; }, 28, 'Normalized PL Intensity', 'log')
  ],
  series,
  graphic
};
const chart = echarts.init(document.getElementById('c'), null, {renderer:'canvas'});
chart.setOption(option);
</script></body></html>
